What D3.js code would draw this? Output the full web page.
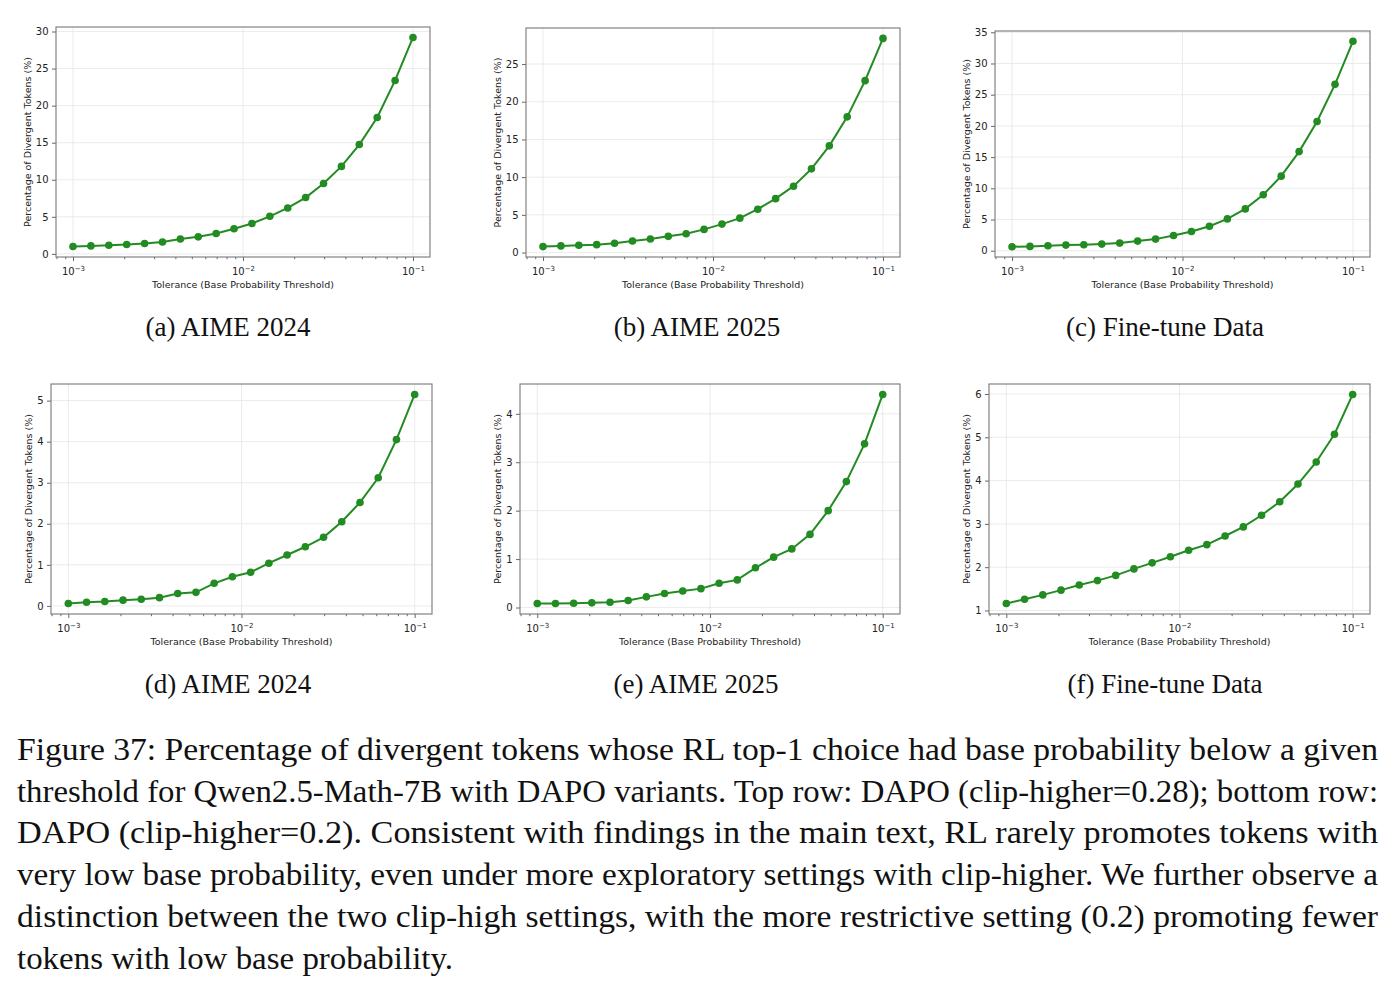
<!DOCTYPE html>
<html>
<head>
<meta charset="utf-8">
<script src="https://cdn.jsdelivr.net/npm/d3@7"></script>
<style>
  body { margin: 0; background: #fff; }
</style>
</head>
<body>
<svg id="fig" width="1396" height="993"></svg>
<script>
// x: tolerance thresholds (20 log-spaced values from 1e-3 to 1e-1)
var tolerance = [0.001, 0.0012743, 0.0016238, 0.0020691, 0.0026367, 0.0033598, 0.0042813,
                 0.0054556, 0.0069519, 0.0088587, 0.011288, 0.014384, 0.018330, 0.023357,
                 0.029764, 0.037927, 0.048329, 0.061585, 0.078476, 0.1];

// top row: DAPO (clip-higher=0.28)
var aime24High = [0.99, 1.08, 1.17, 1.26, 1.4, 1.6, 2.0, 2.3, 2.75, 3.4,
                  4.1, 5.07, 6.2, 7.6, 9.5, 11.8, 14.75, 18.4, 23.4, 29.2];
var aime25High = [0.79, 0.88, 0.96, 1.05, 1.23, 1.53, 1.8, 2.15, 2.5, 3.07,
                  3.77, 4.56, 5.75, 7.15, 8.8, 11.1, 14.15, 18.0, 22.8, 28.4];
var finetuneHigh = [0.64, 0.69, 0.8, 0.9, 0.96, 1.06, 1.22, 1.54, 1.86, 2.44,
                    3.08, 3.93, 5.1, 6.7, 8.97, 11.95, 15.88, 20.7, 26.66, 33.56];
// bottom row: DAPO (clip-higher=0.2)
var aime24Low = [0.057, 0.089, 0.105, 0.14, 0.16, 0.2, 0.3, 0.33, 0.55, 0.71,
                 0.82, 1.04, 1.24, 1.44, 1.67, 2.05, 2.52, 3.12, 4.05, 5.15];
var aime25Low = [0.082, 0.082, 0.089, 0.096, 0.11, 0.144, 0.22, 0.29, 0.34, 0.39,
                 0.5, 0.57, 0.82, 1.04, 1.21, 1.51, 2.0, 2.6, 3.38, 4.4];
var finetuneLow = [1.16, 1.26, 1.36, 1.47, 1.59, 1.69, 1.81, 1.96, 2.1, 2.24,
                   2.39, 2.52, 2.72, 2.93, 3.2, 3.51, 3.92, 4.43, 5.07, 5.99];

var seriesList = [aime24High, aime25High, finetuneHigh, aime24Low, aime25Low, finetuneLow];
var subLabels = ["(a) AIME 2024", "(b) AIME 2025", "(c) Fine-tune Data",
                 "(d) AIME 2024", "(e) AIME 2025", "(f) Fine-tune Data"];
var yTickList = [[0, 5, 10, 15, 20, 25, 30], [0, 5, 10, 15, 20, 25], [0, 5, 10, 15, 20, 25, 30, 35],
                 [0, 1, 2, 3, 4, 5], [0, 1, 2, 3, 4], [1, 2, 3, 4, 5, 6]];
var xMajor = [0.001, 0.01, 0.1];
var xMajorExp = ["\u22123", "\u22122", "\u22121"];
var xLabel = "Tolerance (Base Probability Threshold)";
var yLabel = "Percentage of Divergent Tokens (%)";

var captionLines = [
  "Figure 37: Percentage of divergent tokens whose RL top-1 choice had base probability below a given",
  "threshold for Qwen2.5-Math-7B with DAPO variants. Top row: DAPO (clip-higher=0.28); bottom row:",
  "DAPO (clip-higher=0.2).  Consistent with findings in the main text, RL rarely promotes tokens with",
  "very low base probability, even under more exploratory settings with clip-higher. We further observe a",
  "distinction between the two clip-high settings, with the more restrictive setting (0.2) promoting fewer",
  "tokens with low base probability."
];

// layout (pixels), one box per panel plus sub-caption anchor
var boxes = [
  {l: 56,  t: 27, r: 430, b: 257, cx: 228,  cy: 336},
  {l: 526, t: 28, r: 900, b: 257, cx: 697,  cy: 336},
  {l: 995, t: 31, r: 1370, b: 257, cx: 1165, cy: 336},
  {l: 51,  t: 384, r: 432, b: 614, cx: 228,  cy: 693},
  {l: 520, t: 384, r: 900, b: 614, cx: 696,  cy: 693},
  {l: 989, t: 384, r: 1370, b: 614, cx: 1165, cy: 693}
];

var green = "#228b22";
var sans = "'DejaVu Sans', sans-serif";
var serif = "'Liberation Serif', 'Times New Roman', serif";
var svg = d3.select("#fig");

function drawPanel(box, values, yTicks, label) {
  var g = svg.append("g").style("font-family", sans);
  var x = d3.scaleLog()
            .domain([Math.pow(10, -3.1), Math.pow(10, -0.9)])
            .range([box.l, box.r]);
  var ext = d3.extent(values);
  var pad = (ext[1] - ext[0]) * 0.05;
  var y = d3.scaleLinear()
            .domain([ext[0] - pad, ext[1] + pad])
            .range([box.b, box.t]);

  // grid
  g.selectAll("line.gx").data(xMajor).enter().append("line")
   .attr("x1", function(d) { return x(d); }).attr("x2", function(d) { return x(d); })
   .attr("y1", box.t).attr("y2", box.b)
   .attr("stroke", "#e6e6e6").attr("stroke-width", 0.8);
  g.selectAll("line.gy").data(yTicks).enter().append("line")
   .attr("x1", box.l).attr("x2", box.r)
   .attr("y1", function(d) { return y(d); }).attr("y2", function(d) { return y(d); })
   .attr("stroke", "#e6e6e6").attr("stroke-width", 0.8);

  // minor x ticks
  var minor = x.ticks().filter(function(d) { return xMajor.indexOf(d) < 0; });
  var gMinor = g.append("g").attr("transform", "translate(0," + box.b + ")")
    .call(d3.axisBottom(x).tickValues(minor).tickSize(2.2).tickFormat(""));
  gMinor.select(".domain").remove();

  // major x ticks with superscript labels
  var gx = g.append("g").attr("transform", "translate(0," + box.b + ")")
    .call(d3.axisBottom(x).tickValues(xMajor).tickSize(4).tickPadding(4).tickFormat(""));
  gx.select(".domain").remove();
  gx.selectAll(".tick text").each(function(d, i) {
    var t = d3.select(this).attr("font-size", 10).attr("fill", "#222")
              .attr("dy", "0.95em").style("font-family", sans);
    t.append("tspan").text("10");
    t.append("tspan").attr("dy", "-0.45em").attr("font-size", 7).text(xMajorExp[i]);
  });

  // y ticks
  var gy = g.append("g").attr("transform", "translate(" + box.l + ",0)")
    .call(d3.axisLeft(y).tickValues(yTicks).tickSize(4).tickPadding(3.5).tickFormat(d3.format("d")));
  gy.select(".domain").remove();
  gy.selectAll(".tick text").attr("font-size", 10).attr("fill", "#222")
    .style("font-family", sans);
  g.selectAll(".tick line").attr("stroke", "#555").attr("stroke-width", 0.9);

  // frame
  g.append("rect").attr("x", box.l).attr("y", box.t)
   .attr("width", box.r - box.l).attr("height", box.b - box.t)
   .attr("fill", "none").attr("stroke", "#777").attr("stroke-width", 1.1);

  // line + markers
  var pts = tolerance.map(function(d, i) { return [d, values[i]]; });
  g.append("path").datum(pts)
   .attr("d", d3.line().x(function(d) { return x(d[0]); }).y(function(d) { return y(d[1]); }))
   .attr("fill", "none").attr("stroke", green).attr("stroke-width", 2);
  g.selectAll("circle").data(pts).enter().append("circle")
   .attr("cx", function(d) { return x(d[0]); })
   .attr("cy", function(d) { return y(d[1]); })
   .attr("r", 3.8).attr("fill", green);

  // axis labels
  g.append("text").attr("x", (box.l + box.r) / 2).attr("y", box.b + 31)
   .attr("text-anchor", "middle").attr("font-size", 9.5).attr("fill", "#222").text(xLabel);
  var yb = gy.node().getBBox();
  var lx = box.l + yb.x - 8.5;
  g.append("text")
   .attr("transform", "translate(" + lx + "," + ((box.t + box.b) / 2) + ") rotate(-90)")
   .attr("text-anchor", "middle").attr("dy", "0.35em").attr("font-size", 9.5)
   .attr("fill", "#222").text(yLabel);

  // sub caption
  svg.append("text").style("font-family", serif).attr("fill", "#111")
     .attr("x", box.cx).attr("y", box.cy)
     .attr("text-anchor", "middle").attr("font-size", 27).text(label);
}

seriesList.forEach(function(s, i) {
  drawPanel(boxes[i], s, yTickList[i], subLabels[i]);
});

// caption, justified by stretching each full line to the text width
var capLeft = 17, capRight = 1378, capTop = 760, capStep = 41.7;
captionLines.forEach(function(line, i) {
  var t = svg.append("text").style("font-family", serif).attr("fill", "#111")
             .attr("x", capLeft).attr("y", capTop + i * capStep)
             .attr("font-size", 31).text(line);
  var w = (i < captionLines.length - 1) ? (capRight - capLeft) : 436;
  t.attr("textLength", w).attr("lengthAdjust", "spacingAndGlyphs");
});
</script>
</body>
</html>
